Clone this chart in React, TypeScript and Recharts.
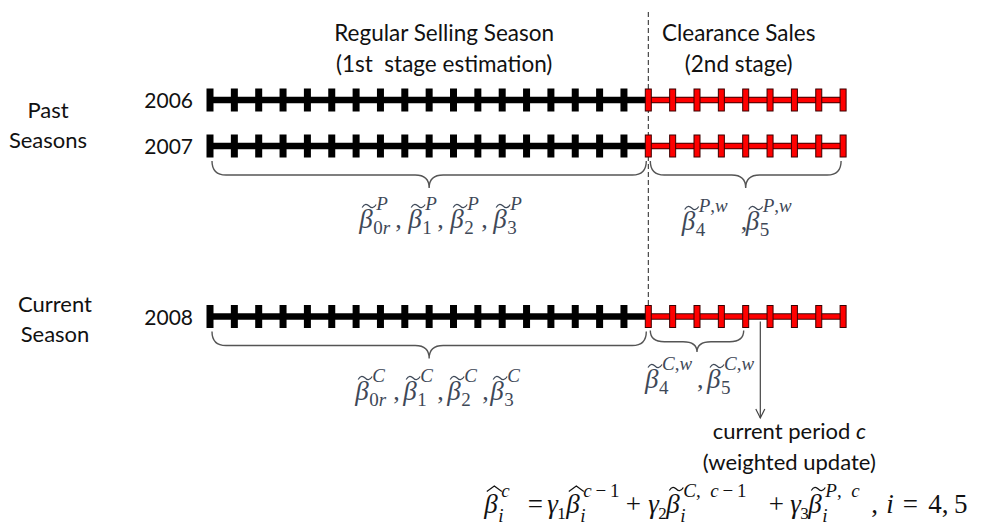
import React from 'react'
import {
  ScatterChart,
  Scatter,
  XAxis,
  YAxis,
  ReferenceLine,
  ReferenceArea,
  ReferenceDot,
} from 'recharts'

// ---- data ----
const seasons = ['2006', '2007', '2008']
const regularPeriods = [0, 1, 2, 3, 4, 5, 6, 7, 8, 9, 10, 11, 12, 13, 14, 15, 16, 17]
const clearancePeriods = [18, 19, 20, 21, 22, 23, 24, 25, 26]
const clearanceStart = 18
const currentPeriod = 22.6

const seasonGroups = [
  { lines: ['Past', 'Seasons'], rows: ['2006', '2007'] },
  { lines: ['Current', 'Season'], rows: ['2008'] },
]

const stageHeadings = [
  { lines: ['Regular Selling Season', '(1st\u00a0 stage estimation)'], from: 0, to: 18 },
  { lines: ['Clearance Sales', '(2nd stage)'], from: 18, to: 26 },
]

const currentLines = ['current period ', 'c', '(weighted update)']

const pastRegularBetas = [
  { sub: '0r', sup: 'P' },
  { sub: '1', sup: 'P' },
  { sub: '2', sup: 'P' },
  { sub: '3', sup: 'P' },
]
const pastClearanceBetas = [
  { sub: '4', sup: 'P,w' },
  { sub: '5', sup: 'P,w' },
]
const currentRegularBetas = [
  { sub: '0r', sup: 'C' },
  { sub: '1', sup: 'C' },
  { sub: '2', sup: 'C' },
  { sub: '3', sup: 'C' },
]
const currentClearanceBetas = [
  { sub: '4', sup: 'C,w' },
  { sub: '5', sup: 'C,w' },
]

const braces = [
  { season: '2007', from: 0, to: 18, betas: pastRegularBetas },
  { season: '2007', from: 18, to: 26, betas: pastClearanceBetas },
  { season: '2008', from: 0, to: 18, betas: currentRegularBetas },
  { season: '2008', from: 18, to: 22, betas: currentClearanceBetas },
]

// update rule for the current period
const formulaTokens = [
  { kind: 'beta', acc: 'hat', sub: 'i', sup: 'c' },
  { kind: 'op', s: '=' },
  { kind: 'var', s: 'γ', sub: '1' },
  { kind: 'beta', acc: 'hat', sub: 'i', sup: 'c\u2009−\u20091' },
  { kind: 'op', s: '+' },
  { kind: 'var', s: 'γ', sub: '2' },
  { kind: 'beta', acc: 'tilde', sub: 'i', sup: 'C,\u2002c\u2009−\u20091' },
  { kind: 'op', s: '+' },
  { kind: 'var', s: 'γ', sub: '3' },
  { kind: 'beta', acc: 'tilde', sub: 'i', sup: 'P,\u2002c' },
  { kind: 'text', s: ',' },
  { kind: 'var', s: 'i' },
  { kind: 'op', s: '=' },
  { kind: 'text', s: '4,\u20095' },
]

// ---- layout ----
const W = 982
const H = 531
const ORIGIN_PX = 210
const PERIOD_PX = 24.35
const X_DOMAIN = [-ORIGIN_PX / PERIOD_PX, (W - ORIGIN_PX) / PERIOD_PX]
const ROW_Y: Record<string, number> = { '2006': 100, '2007': 146, '2008': 316.5 }

const TEXT_FONT = 'Lato, "Open Sans", sans-serif'
const MATH_FONT = '"Liberation Serif", "DejaVu Serif", serif'
const TEXT_COLOR = '#111'
const LABEL_COLOR = '#3e4857'
const BRACE_COLOR = '#555'
const BETA_SIZE = 27
const SCRIPT_SIZE = 19

const BRACE_LAYOUT = [
  { top: 15, depth: 27, labelDy: 82, dx: -70, betaDx: [0, 49, 91, 134], commaDx: [36, 78, 122] },
  { top: 15, depth: 27, labelDy: 84, dx: -64, betaDx: [0, 64], commaDx: [59] },
  { top: 15, depth: 27, labelDy: 83.5, dx: -74, betaDx: [0, 48, 92, 135], commaDx: [38, 82, 127] },
  { top: 14, depth: 21.5, labelDy: 71.5, dx: -52, betaDx: [0, 62], commaDx: [52] },
]
const HEADING_DX = [15, -7]
const GROUP_DX = [-162, -155]
const FORMULA_DX = [0, 51, 63, 82, 149, 164, 182, 292, 306, 324, 387, 402, 426, 444]

// ---- drawing helpers ----
const bracePath = (x: number, y: number, w: number, h: number) => {
  const mid = x + w / 2
  const m = h * 0.52
  const r = Math.min(14, w / 6)
  return `M${x},${y} Q${x},${y + m} ${x + r},${y + m} L${mid - r},${y + m} Q${mid},${y + m} ${mid},${y + h} Q${mid},${y + m} ${mid + r},${y + m} L${x + w - r},${y + m} Q${x + w},${y + m} ${x + w},${y}`
}

function Script({ x, y, s, size, fill }: any) {
  return (
    <text x={x} y={y} fontSize={size} fontFamily={MATH_FONT} fill={fill}>
      {[...s].map((ch: string, i: number) => (
        <tspan key={i} fontStyle={/[A-Za-z]/.test(ch) ? 'italic' : 'normal'}>
          {ch === ' ' ? '\u00a0' : ch}
        </tspan>
      ))}
    </text>
  )
}

function Beta({ x, y, acc, sub, sup, color, supDy, subDy, accDy }: any) {
  const cx = x + 10
  const cy = y + accDy
  const accent =
    acc === 'hat'
      ? `M${cx - 7.5},${cy + 2.5} L${cx},${cy - 3} L${cx + 7.5},${cy + 2.5}`
      : `M${cx - 7},${cy + 1.5} C${cx - 4.5},${cy - 3} ${cx - 2},${cy - 2} ${cx},${cy} C${cx + 2},${cy + 2} ${cx + 4.5},${cy + 3} ${cx + 7},${cy - 1.5}`
  return (
    <g>
      <text x={x} y={y} fontSize={BETA_SIZE} fontStyle="italic" fontFamily={MATH_FONT} fill={color}>
        β
      </text>
      <path d={accent} fill="none" stroke={color} strokeWidth={1.2} />
      {sup && <Script x={x + 17} y={y + supDy} s={sup} size={SCRIPT_SIZE} fill={color} />}
      {sub && <Script x={x + 14} y={y + subDy} s={sub} size={SCRIPT_SIZE} fill={color} />}
    </g>
  )
}

const BlackTick = (p: any) =>
  p.payload.tick ? <rect x={p.cx - 3.5} y={p.cy - 11.5} width={7} height={23} fill="#000" /> : <g />
const RedTick = (p: any) => (
  <rect x={p.cx - 3} y={p.cy - 11} width={6} height={22} fill="#ff0000" stroke="#3a0000" strokeWidth={1} />
)
const NoDot = () => <g />

export default function App() {
  return (
    <div style={{ position: 'absolute', left: 0, top: 0, width: W, height: H, background: '#fff' }}>
      <ScatterChart width={W} height={H} margin={{ top: 0, right: 0, bottom: 0, left: 0 }}>
        <XAxis type="number" dataKey="x" domain={X_DOMAIN} hide allowDataOverflow />
        <YAxis type="number" dataKey="y" domain={[0, H]} reversed hide allowDataOverflow />

        {/* stage divider */}
        <ReferenceLine
          segment={[
            { x: clearanceStart, y: 12 },
            { x: clearanceStart, y: ROW_Y['2008'] },
          ]}
          stroke="#222"
          strokeWidth={1}
          strokeDasharray="5 3"
        />

        {/* timelines */}
        {seasons.map((s) => {
          const y = ROW_Y[s]
          const black = [...regularPeriods.map((x) => ({ x, y, tick: true })), { x: clearanceStart, y, tick: false }]
          const red = clearancePeriods.map((x) => ({ x, y }))
          return [
            <Scatter
              key={s + '-reg'}
              data={black}
              line={{ stroke: '#000', strokeWidth: 6.5 }}
              shape={BlackTick}
              isAnimationActive={false}
            />,
            <Scatter
              key={s + '-edge'}
              data={red}
              line={{ stroke: '#3a0000', strokeWidth: 6.5 }}
              shape={NoDot}
              isAnimationActive={false}
            />,
            <Scatter
              key={s + '-clr'}
              data={red}
              line={{ stroke: '#ff0000', strokeWidth: 4.5 }}
              shape={RedTick}
              isAnimationActive={false}
            />,
          ]
        })}

        {/* braces */}
        {braces.map((b, i) => {
          const L = BRACE_LAYOUT[i]
          const y = ROW_Y[b.season]
          return (
            <ReferenceArea
              key={'brace' + i}
              x1={b.from}
              x2={b.to}
              y1={y + L.top}
              y2={y + L.top + L.depth}
              shape={(p: any) => (
                <path d={bracePath(p.x + 2, p.y, p.width - 4, p.height)} fill="none" stroke={BRACE_COLOR} strokeWidth={1.4} />
              )}
            />
          )
        })}

        {/* brace labels */}
        {braces.map((b, i) => {
          const L = BRACE_LAYOUT[i]
          return (
            <ReferenceDot
              key={'bl' + i}
              x={(b.from + b.to) / 2}
              y={ROW_Y[b.season] + L.labelDy}
              r={0}
              shape={(p: any) => {
                const x0 = p.cx + L.dx
                return (
                  <g>
                    {b.betas.map((bt, j) => (
                      <Beta
                        key={j}
                        x={x0 + L.betaDx[j]}
                        y={p.cy}
                        acc="tilde"
                        sub={bt.sub}
                        sup={bt.sup}
                        color={LABEL_COLOR}
                        supDy={-18}
                        subDy={6}
                        accDy={-22}
                      />
                    ))}
                    {L.commaDx.map((d, j) => (
                      <text key={'c' + j} x={x0 + d} y={p.cy} fontSize={26} fontFamily={MATH_FONT} fill={LABEL_COLOR}>
                        ,
                      </text>
                    ))}
                  </g>
                )
              }}
            />
          )
        })}

        {/* year labels */}
        {seasons.map((s) => (
          <ReferenceDot
            key={'yr' + s}
            x={regularPeriods[0]}
            y={ROW_Y[s]}
            r={0}
            shape={(p: any) => (
              <text x={p.cx - 17} y={p.cy + 8} textAnchor="end" fontSize={21} fontFamily={TEXT_FONT} fill={TEXT_COLOR}>
                {s}
              </text>
            )}
          />
        ))}

        {/* season group labels */}
        {seasonGroups.map((g, i) => {
          const ys = g.rows.map((r) => ROW_Y[r])
          const mid = (Math.min(...ys) + Math.max(...ys)) / 2
          return (
            <ReferenceDot
              key={'grp' + i}
              x={regularPeriods[0]}
              y={mid}
              r={0}
              shape={(p: any) => (
                <text textAnchor="middle" fontSize={22} fontFamily={TEXT_FONT} fill={TEXT_COLOR}>
                  <tspan x={p.cx + GROUP_DX[i]} y={p.cy - 5}>
                    {g.lines[0]}
                  </tspan>
                  <tspan x={p.cx + GROUP_DX[i]} y={p.cy + 25}>
                    {g.lines[1]}
                  </tspan>
                </text>
              )}
            />
          )
        })}

        {/* stage headings */}
        {stageHeadings.map((h, i) => (
          <ReferenceDot
            key={'head' + i}
            x={(h.from + h.to) / 2}
            y={41}
            r={0}
            shape={(p: any) => (
              <text textAnchor="middle" fontSize={22.5} fontFamily={TEXT_FONT} fill={TEXT_COLOR}>
                <tspan x={p.cx + HEADING_DX[i]} y={p.cy}>
                  {h.lines[0]}
                </tspan>
                <tspan x={p.cx + HEADING_DX[i]} y={p.cy + 31}>
                  {h.lines[1]}
                </tspan>
              </text>
            )}
          />
        ))}

        {/* current period arrow */}
        <ReferenceLine
          segment={[
            { x: currentPeriod, y: ROW_Y['2008'] + 5 },
            { x: currentPeriod, y: 418 },
          ]}
          stroke="#444"
          strokeWidth={1.2}
        />
        <ReferenceDot
          x={currentPeriod}
          y={418}
          r={0}
          shape={(p: any) => (
            <path d={`M${p.cx - 4.5},${p.cy - 9} L${p.cx},${p.cy} L${p.cx + 4.5},${p.cy - 9}`} fill="none" stroke="#444" strokeWidth={1.2} />
          )}
        />
        <ReferenceDot
          x={currentPeriod}
          y={439}
          r={0}
          shape={(p: any) => (
            <text textAnchor="middle" fontSize={22} fontFamily={TEXT_FONT} fill={TEXT_COLOR}>
              <tspan x={p.cx + 29} y={p.cy}>
                {currentLines[0]}
                <tspan fontStyle="italic">{currentLines[1]}</tspan>
              </tspan>
              <tspan x={p.cx + 29} y={p.cy + 31}>
                {currentLines[2]}
              </tspan>
            </text>
          )}
        />

        {/* update formula */}
        <ReferenceDot
          x={currentPeriod}
          y={513}
          r={0}
          shape={(p: any) => {
            const x0 = p.cx - 276
            return (
              <g>
                {formulaTokens.map((t: any, i) => {
                  const x = x0 + FORMULA_DX[i]
                  if (t.kind === 'beta')
                    return (
                      <Beta key={i} x={x} y={p.cy} acc={t.acc} sub={t.sub} sup={t.sup} color="#111" supDy={-16} subDy={9} accDy={-24} />
                    )
                  if (t.kind === 'op')
                    return (
                      <text key={i} x={x} y={p.cy} textAnchor="middle" fontSize={27} fontFamily={MATH_FONT} fill="#111">
                        {t.s}
                      </text>
                    )
                  if (t.kind === 'var')
                    return (
                      <g key={i}>
                        <text x={x} y={p.cy} fontSize={27} fontStyle="italic" fontFamily={MATH_FONT} fill="#111">
                          {t.s}
                        </text>
                        {t.sub && <Script x={x + 10} y={p.cy + 6} s={t.sub} size={17} fill="#111" />}
                      </g>
                    )
                  return (
                    <text key={i} x={x} y={p.cy} fontSize={27} fontFamily={MATH_FONT} fill="#111">
                      {t.s}
                    </text>
                  )
                })}
              </g>
            )
          }}
        />
      </ScatterChart>
    </div>
  )
}
